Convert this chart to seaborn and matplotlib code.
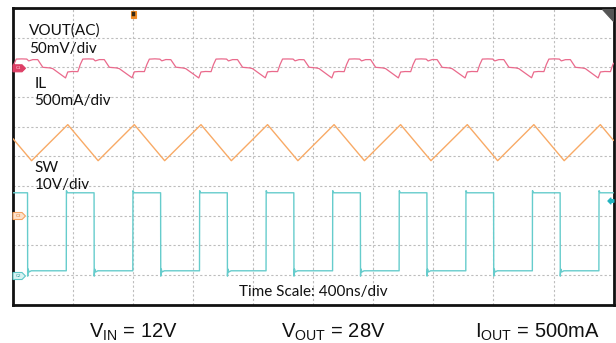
import matplotlib
matplotlib.use("Agg")
import matplotlib.pyplot as plt
import seaborn as sns
import pandas as pd
from matplotlib.patches import Polygon

# ---------------- data (read from the scope shot) ----------------
time_per_div_ns = 400
n_div_x = 10
n_div_y = 10

# channel scaling / reference levels (in divisions)
vout_mv_per_div, vout_ref_div = 50, 8
il_ma_per_div, il_ref_div = 500, 3
sw_v_per_div, sw_ref_div = 10, 1

# SW node (V)
sw_rise_ns = [356, 799, 1243, 1686, 2129, 2572, 3016, 3459, 3902]
sw_fall_ns = [98, 541, 984, 1428, 1871, 2314, 2757, 3201, 3644]
sw_high_v = 27.7
sw_low_v = 1.4
sw_rise_spike_v = 28.4
sw_fall_spike_v = -0.4
sw_fall_ring_v = [2.0, 1.0]

# Inductor current (mA)
il_peak_ns = [366, 809, 1253, 1696, 2139, 2582, 3026, 3469, 3912]
il_valley_ns = [125, 568, 1011, 1455, 1898, 2341, 2784, 3228, 3671]
il_peak_ma = 1534
il_valley_ma = 926
il_start_ma = 1300
il_end_ma = 1266

# Output ripple (mV, AC coupled)
vout_t_ns = [0, 6, 23, 60, 93, 106, 133, 166, 200, 246, 266,
             351, 366, 396, 433, 449, 466, 503, 536, 549, 576, 609, 643, 689, 709,
             794, 809, 839, 876, 892, 909, 946, 979, 992, 1019, 1052, 1086, 1132, 1152,
             1238, 1253, 1283, 1320, 1336, 1353, 1390, 1423, 1436, 1463, 1496, 1530, 1576, 1596,
             1681, 1696, 1726, 1763, 1779, 1796, 1833, 1866, 1879, 1906, 1939, 1973, 2019, 2039,
             2124, 2139, 2169, 2206, 2222, 2239, 2276, 2309, 2322, 2349, 2382, 2416, 2462, 2482,
             2567, 2582, 2612, 2649, 2665, 2682, 2719, 2752, 2765, 2792, 2825, 2859, 2905, 2925,
             3011, 3026, 3056, 3093, 3109, 3126, 3163, 3196, 3209, 3236, 3269, 3303, 3349, 3369,
             3454, 3469, 3499, 3536, 3552, 3569, 3606, 3639, 3652, 3679, 3712, 3746, 3792, 3812,
             3897, 3912, 3942, 3979, 3995, 4000]
vout_mv = [0.0, 4.6, 13.9, 14.2, 13.9, 10.8, 13.0, 13.0, 0.0, -1.0, -2.2,
           -17.9, -7.8, -7.0, -7.3, 4.6, 13.9, 14.2, 13.9, 10.8, 13.0, 13.0, 0.0, -1.0, -2.2,
           -17.6, -7.6, -7.1, -7.2, 4.4, 13.8, 14.3, 13.8, 10.9, 13.1, 12.9, 0.2, -1.1, -2.3,
           -17.9, -7.8, -7.0, -7.3, 4.6, 13.9, 14.2, 13.9, 10.8, 13.0, 13.0, 0.0, -1.0, -2.2,
           -17.7, -7.7, -7.0, -7.2, 4.5, 14.0, 14.1, 13.9, 10.9, 13.0, 12.8, 0.1, -1.0, -2.1,
           -17.9, -7.8, -7.0, -7.3, 4.6, 13.9, 14.2, 13.9, 10.8, 13.0, 13.0, 0.0, -1.0, -2.2,
           -17.8, -7.9, -7.1, -7.3, 4.7, 13.8, 14.2, 13.8, 10.7, 13.1, 13.0, -0.1, -1.0, -2.3,
           -17.9, -7.8, -7.0, -7.3, 4.6, 13.9, 14.2, 13.9, 10.8, 13.0, 13.0, 0.0, -1.0, -2.2,
           -17.6, -7.8, -7.0, -7.2, 4.6, 13.9, 14.3, 13.9, 10.8, 12.9, 13.0, 0.0, -1.1, -2.2,
           -17.9, -7.8, -7.0, -7.3, 4.6, 7.0]

label_texts = ["VOUT(AC)", "50mV/div", "IL", "500mA/div", "SW", "10V/div"]
time_scale_text = "Time Scale: 400ns/div"
bottom_texts = [r"V$_{\mathregular{IN}}$ = 12V",
                r"V$_{\mathregular{OUT}}$ = 28V",
                r"I$_{\mathregular{OUT}}$ = 500mA"]

# ---------------- build traces ----------------
sw_t, sw_v = [0], [sw_high_v]
events = sorted([(t, "f") for t in sw_fall_ns] + [(t, "r") for t in sw_rise_ns])
for t, kind in events:
    if kind == "f":
        sw_t += [t, t + 1, t + 4, t + 10, t + 25]
        sw_v += [sw_high_v, sw_fall_spike_v, sw_fall_ring_v[0], sw_fall_ring_v[1], sw_low_v]
    else:
        sw_t += [t, t + 1, t + 8]
        sw_v += [sw_low_v, sw_rise_spike_v, sw_high_v]
sw_t.append(n_div_x * time_per_div_ns)
sw_v.append(sw_high_v)

il_pts = sorted([(t, il_peak_ma) for t in il_peak_ns] + [(t, il_valley_ma) for t in il_valley_ns])
il_t = [0] + [p[0] for p in il_pts] + [n_div_x * time_per_div_ns]
il_ma = [il_start_ma] + [p[1] for p in il_pts] + [il_end_ma]

df_sw = pd.DataFrame({"t": sw_t, "div": [sw_ref_div + v / sw_v_per_div for v in sw_v]})
df_il = pd.DataFrame({"t": il_t, "div": [il_ref_div + v / il_ma_per_div for v in il_ma]})
df_vo = pd.DataFrame({"t": vout_t_ns, "div": [vout_ref_div + v / vout_mv_per_div for v in vout_mv]})

# ---------------- figure ----------------
sns.set_style("white")
plt.rcParams["font.family"] = ["Lato", "DejaVu Sans"]

W, H = 616, 343
fig = plt.figure(figsize=(W / 100, H / 100), dpi=100)

def fx(x):
    return x / W

def fy(y):
    return 1 - y / H

ax_l, ax_r, ax_t, ax_b = 12.8, 613.6, 8.0, 304.6
ax = fig.add_axes([fx(ax_l), fy(ax_b), (ax_r - ax_l) / W, (ax_b - ax_t) / H])

col_vo = "#ea6a8c"
col_il = "#f8aa66"
col_sw = "#66cccc"

sns.lineplot(data=df_sw, x="t", y="div", ax=ax, color=col_sw, linewidth=1.0,
             estimator=None, sort=False, zorder=3)
sns.lineplot(data=df_il, x="t", y="div", ax=ax, color=col_il, linewidth=1.0,
             estimator=None, sort=False, zorder=3)
sns.lineplot(data=df_vo, x="t", y="div", ax=ax, color=col_vo, linewidth=0.9,
             estimator=None, sort=False, zorder=3)

ax.set_xlim(0, n_div_x * time_per_div_ns)
ax.set_ylim(0, n_div_y)
ax.set_xticks([i * time_per_div_ns for i in range(1, n_div_x)])
ax.set_yticks(list(range(1, n_div_y)))
ax.grid(True, color="#bdbdbd", linestyle=(0, (2, 2)), linewidth=0.8)
ax.tick_params(length=0, labelbottom=False, labelleft=False)
ax.set_xlabel("")
ax.set_ylabel("")
for s in ax.spines.values():
    s.set_color("#111111")
    s.set_linewidth(2.0)

# channel labels
lab_pos = [(29.3, 35), (29.3, 52.7), (34.3, 87.7), (34.3, 104.5), (34.3, 172.5), (34.3, 189.5)]
for txt, (x, y) in zip(label_texts, lab_pos):
    fig.text(fx(x), fy(y), txt, fontsize=11, color="#111111", va="baseline", ha="left")

fig.text(fx(313.5), fy(296), time_scale_text, fontsize=11, color="#111111",
         va="baseline", ha="center")

bot_x = [133, 333, 537]
for txt, x in zip(bottom_texts, bot_x):
    fig.text(fx(x), fy(338), txt, fontsize=14.5, color="#111111", va="baseline", ha="center",
             family=["Liberation Sans", "DejaVu Sans"])

# ---------------- scope markers ----------------
def poly(pts, fc, ec, z=6, lw=0.8):
    fig.add_artist(Polygon([(fx(a), fy(b)) for a, b in pts], closed=True,
                           transform=fig.transFigure, facecolor=fc, edgecolor=ec,
                           linewidth=lw, zorder=z))

def chan_marker(yc, fc, ec, tc, name):
    poly([(13, yc - 3.5), (22, yc - 3.5), (25.5, yc), (22, yc + 3.5), (13, yc + 3.5)], fc, ec)
    fig.text(fx(18.5), fy(yc), name, fontsize=3.2, color=tc, ha="center", va="center",
             zorder=7)

chan_marker(68.3, "#de3f66", "#de3f66", "#ffd6e0", "C1")
chan_marker(216.0, "#fde2cc", "#f5a462", "#e07a2a", "C3")
chan_marker(276.0, "#d8f3f3", "#5ec8c8", "#2a9a9a", "C2")

# trigger marker
poly([(130.5, 10.8), (136.2, 10.8), (136.2, 17.6), (130.5, 17.6)], "#f08a24", "#f08a24")
poly([(131.8, 12.2), (134.9, 12.2), (134.9, 16.2), (131.8, 16.2)], "#3b2a12", "#3b2a12", z=7, lw=0.3)

# right-side SW level arrow
poly([(607.8, 201), (611, 197.8), (611, 199.6), (614, 199.6), (614, 202.4), (611, 202.4),
      (611, 204.2)], "#22b3bf", "#22b3bf")

# top-right corner tab
poly([(601.5, 8.5), (613, 8.5), (613, 20.5)], "#555555", "#555555")

fig.savefig("out.png", dpi=100)
